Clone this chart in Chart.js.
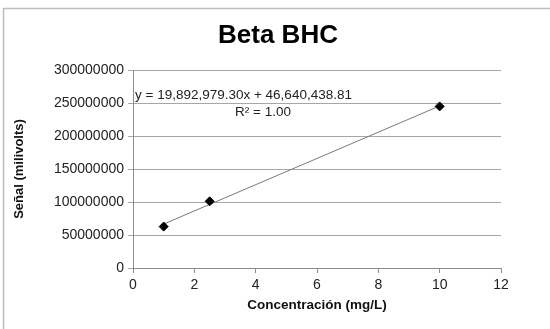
<!DOCTYPE html>
<html>
<head>
<meta charset="utf-8">
<script src="https://cdn.jsdelivr.net/npm/chart.js@4/dist/chart.umd.min.js"></script>
<style>
html,body{margin:0;padding:0;background:#fff;}
#wrap{position:relative;width:550px;height:329px;}
</style>
</head>
<body>
<div id="wrap"><canvas id="c" width="550" height="329"></canvas></div>
<script>
const chartTitle = "Beta BHC";
const xAxisTitle = "Concentración (mg/L)";
const yAxisTitle = "Señal (milivolts)";
const concentrations = [1, 2.5, 10];
const signals = [62700000, 101000000, 244850000];
const trendSlope = 19892979.30;
const trendIntercept = 46640438.81;
const trendX = [1, 10];
const equationText = "y = 19,892,979.30x + 46,640,438.81";
const r2Text = "R² = 1.00";
const xTicks = [0, 2, 4, 6, 8, 10, 12];
const yTicks = [0, 50000000, 100000000, 150000000, 200000000, 250000000, 300000000];

const FONT = "'Liberation Sans', Arial, sans-serif";

const points = concentrations.map((x, i) => ({x: x, y: signals[i]}));
const trendPts = trendX.map(x => ({x: x, y: trendSlope * x + trendIntercept}));

const framePlugin = {
  id: 'frame',
  beforeDraw(chart) {
    const ctx = chart.ctx;
    ctx.save();
    ctx.fillStyle = '#fff';
    ctx.fillRect(0, 0, chart.width, chart.height);
    ctx.strokeStyle = '#bdbdbd';
    ctx.lineWidth = 1.5;
    ctx.strokeRect(3.5, 8.5, 570, 340);
    ctx.fillStyle = '#000';
    ctx.font = "bold 26px " + FONT;
    ctx.textAlign = 'center';
    ctx.textBaseline = 'middle';
    ctx.fillText(chartTitle, 278, 36);
    ctx.restore();
  },
  afterDatasetsDraw(chart) {
    const ctx = chart.ctx;
    ctx.save();
    ctx.fillStyle = '#222';
    ctx.font = "13.5px " + FONT;
    ctx.textBaseline = 'middle';
    ctx.textAlign = 'left';
    ctx.fillText(equationText, 135, 95);
    ctx.textAlign = 'center';
    ctx.fillText(r2Text, 263, 112);
    ctx.restore();
  }
};

new Chart(document.getElementById('c'), {
  type: 'scatter',
  data: {
    datasets: [
      {
        label: 'trend',
        data: trendPts,
        showLine: true,
        borderColor: '#7a7a7a',
        borderWidth: 1,
        pointRadius: 0,
        order: 2
      },
      {
        label: 'data',
        data: points,
        pointStyle: 'rectRot',
        pointRadius: 4.5,
        backgroundColor: '#000',
        borderColor: '#000',
        borderWidth: 1,
        order: 1
      }
    ]
  },
  options: {
    responsive: false,
    animation: false,
    devicePixelRatio: 1,
    layout: {padding: {left: 0, right: 49, top: 70, bottom: 0}},
    plugins: {
      legend: {display: false},
      tooltip: {enabled: false},
      title: {display: false}
    },
    scales: {
      x: {
        type: 'linear',
        min: 0, max: 12,
        afterBuildTicks(scale) { scale.ticks = xTicks.map(v => ({value: v})); },
        afterFit(scale) { scale.height = 61; },
        grid: {drawOnChartArea: false, drawTicks: true, tickLength: 5, color: '#8c8c8c'},
        border: {color: '#8c8c8c', width: 1},
        ticks: {color: '#222', font: {family: FONT, size: 14}, padding: 4, maxRotation: 0},
        title: {display: true, text: xAxisTitle, color: '#111', font: {family: FONT, size: 13.5, weight: 'bold'}, padding: {top: 0, bottom: 16}}
      },
      y: {
        type: 'linear',
        min: 0, max: 300000000,
        afterBuildTicks(scale) { scale.ticks = yTicks.map(v => ({value: v})); },
        afterFit(scale) { scale.width = 133; },
        grid: {drawOnChartArea: true, drawTicks: true, tickLength: 5, color: '#a6a6a6'},
        border: {color: '#8c8c8c', width: 1},
        ticks: {color: '#222', font: {family: FONT, size: 14}, padding: 4, callback: v => String(v)},
        title: {display: true, text: yAxisTitle, color: '#111', font: {family: FONT, size: 13, weight: 'bold'}, padding: {top: 12, bottom: 0}}
      }
    }
  },
  plugins: [framePlugin]
});
</script>
</body>
</html>
